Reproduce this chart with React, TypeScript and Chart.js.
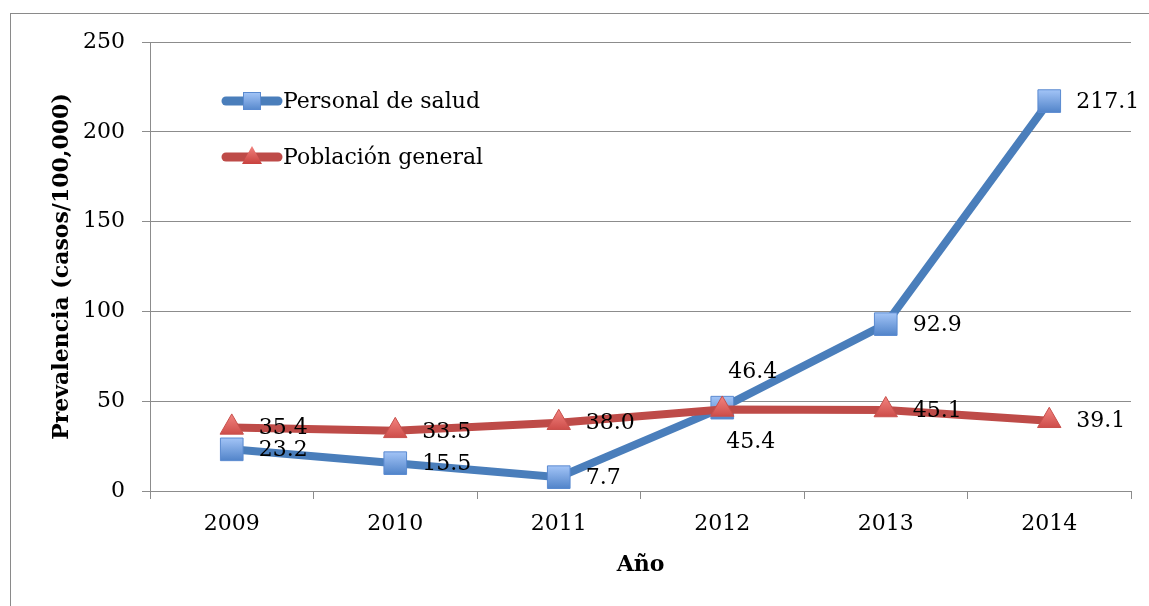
import { useEffect, useRef } from 'react';
import { Chart, registerables } from 'chart.js';

Chart.register(...registerables);

const years = ['2009', '2010', '2011', '2012', '2013', '2014'];
const personalSalud = [23.2, 15.5, 7.7, 46.4, 92.9, 217.1];
const poblacionGeneral = [35.4, 33.5, 38.0, 45.4, 45.1, 39.1];
const yTicks = [0, 50, 100, 150, 200, 250];
const seriesNames = ['Personal de salud', 'Población general'];
const yTitle = 'Prevalencia (casos/100,000)';
const xTitle = 'Año';

// label placement per point (style)
const saludPlacement = ['right', 'right', 'right', 'above', 'right', 'right'];
const poblacionPlacement = ['right', 'right', 'right', 'below', 'right', 'right'];

const FONT = '"DejaVu Serif", "Liberation Serif", serif';
const GRID = '#8c8c8c';
const BLUE = '#4a7ebb';
const RED = '#be4b48';

const markerGradient = (top: string, bottom: string) => (c: any) => {
  const chart = c.chart;
  const ys = chart.scales && chart.scales.y;
  if (!ys || !c.parsed || !chart.ctx) return bottom;
  const py = ys.getPixelForValue(c.parsed.y);
  if (!Number.isFinite(py)) return bottom;
  const g = chart.ctx.createLinearGradient(0, py - 12, 0, py + 12);
  g.addColorStop(0, top);
  g.addColorStop(1, bottom);
  return g;
};

const borderPlugin = {
  id: 'outerBorder',
  beforeDraw(chart: any) {
    const ctx = chart.ctx;
    ctx.save();
    ctx.fillStyle = '#ffffff';
    ctx.fillRect(0, 0, chart.width, chart.height);
    ctx.strokeStyle = '#8a8a8a';
    ctx.lineWidth = 1;
    ctx.strokeRect(10.5, 13.5, 3000, 3000);
    ctx.restore();
  },
};

const labelPlugin = {
  id: 'pointLabels',
  afterDatasetsDraw(chart: any) {
    const ctx = chart.ctx;
    ctx.save();
    ctx.font = `22px ${FONT}`;
    ctx.fillStyle = '#000';
    ctx.textBaseline = 'middle';
    ctx.textAlign = 'left';
    chart.data.datasets.forEach((ds: any, i: number) => {
      const meta = chart.getDatasetMeta(i);
      const placement: string[] = ds.labelPlacement;
      meta.data.forEach((pt: any, j: number) => {
        const v = ds.data[j] as number;
        const txt = v.toFixed(1);
        const p = placement[j];
        if (p === 'above') ctx.fillText(txt, pt.x + 6, pt.y - 35);
        else if (p === 'below') ctx.fillText(txt, pt.x + 4, pt.y + 33);
        else ctx.fillText(txt, pt.x + 27, pt.y + 1);
      });
    });
    ctx.restore();
  },
};

const legendPlugin = {
  id: 'insideLegend',
  afterDatasetsDraw(chart: any) {
    const ctx = chart.ctx;
    const area = chart.chartArea;
    const x0 = area.left + 72;
    const rows = [area.top + 59, area.top + 115];
    ctx.save();
    chart.data.datasets.forEach((ds: any, i: number) => {
      const y = rows[i];
      ctx.strokeStyle = ds.borderColor;
      ctx.lineWidth = 9;
      ctx.lineCap = 'round';
      ctx.beginPath();
      ctx.moveTo(x0 + 4, y);
      ctx.lineTo(x0 + 56, y);
      ctx.stroke();
      const cx = x0 + 30;
      if (ds.pointStyle === 'rect') {
        const g = ctx.createLinearGradient(0, y - 9, 0, y + 9);
        g.addColorStop(0, '#a5c6f8');
        g.addColorStop(1, '#5688cc');
        ctx.fillStyle = g;
        ctx.fillRect(cx - 9, y - 9, 18, 18);
        ctx.strokeStyle = '#5a8ad0';
        ctx.lineWidth = 1;
        ctx.strokeRect(cx - 8.5, y - 8.5, 17, 17);
      } else {
        const g = ctx.createLinearGradient(0, y - 10, 0, y + 7);
        g.addColorStop(0, '#f0807c');
        g.addColorStop(1, '#c8413e');
        ctx.fillStyle = g;
        ctx.beginPath();
        ctx.moveTo(cx, y - 11);
        ctx.lineTo(cx + 10, y + 7);
        ctx.lineTo(cx - 10, y + 7);
        ctx.closePath();
        ctx.fill();
      }
      ctx.fillStyle = '#000';
      ctx.font = `22px ${FONT}`;
      ctx.textBaseline = 'middle';
      ctx.textAlign = 'left';
      ctx.fillText(ds.label, x0 + 61, y + 1);
    });
    ctx.restore();
  },
};

export default function App() {
  const ref = useRef<HTMLCanvasElement>(null);

  useEffect(() => {
    if (!ref.current) return;
    const chart = new Chart(ref.current, {
      type: 'line',
      data: {
        labels: years,
        datasets: [
          {
            label: seriesNames[0],
            data: personalSalud,
            borderColor: BLUE,
            backgroundColor: BLUE,
            borderWidth: 8,
            tension: 0,
            pointStyle: 'rect',
            pointRadius: 16,
            pointBorderWidth: 1,
            pointBorderColor: '#5a8ad0',
            pointBackgroundColor: markerGradient('#a5c6f8', '#4f82c8'),
            order: 1,
            labelPlacement: saludPlacement,
          } as any,
          {
            label: seriesNames[1],
            data: poblacionGeneral,
            borderColor: RED,
            backgroundColor: RED,
            borderWidth: 8,
            tension: 0,
            pointStyle: 'triangle',
            pointRadius: 13.5,
            pointBorderWidth: 1,
            pointBorderColor: '#c8504c',
            pointBackgroundColor: markerGradient('#f0807c', '#c43f3c'),
            order: 0,
            labelPlacement: poblacionPlacement,
          } as any,
        ],
      },
      options: {
        responsive: false,
        animation: false,
        events: [],
        layout: { padding: { left: 0, top: 42, right: 18, bottom: 0 } },
        plugins: {
          legend: { display: false },
          tooltip: { enabled: false },
        },
        scales: {
          x: {
            type: 'category',
            offset: true,
            grid: {
              offset: true,
              drawOnChartArea: false,
              drawTicks: true,
              tickLength: 8,
              color: GRID,
              lineWidth: 1,
            },
            border: { display: true, color: GRID, width: 1 },
            ticks: {
              font: { family: FONT, size: 22 },
              color: '#000',
              padding: 12,
              maxRotation: 0,
            },
            title: {
              display: true,
              text: xTitle,
              font: { family: FONT, size: 22, weight: 'bold' },
              color: '#000',
              padding: { top: 4, bottom: 28 },
            },
            afterFit: (s: any) => {
              s.height = 115;
            },
          },
          y: {
            min: 0,
            max: 250,
            afterBuildTicks: (s: any) => {
              s.ticks = yTicks.map((v) => ({ value: v }));
            },
            grid: { color: GRID, lineWidth: 1, tickLength: 8 },
            border: { display: true, color: GRID, width: 1 },
            ticks: {
              font: { family: FONT, size: 22 },
              color: '#000',
              padding: 17,
            },
            title: {
              display: true,
              text: yTitle,
              font: { family: FONT, size: 22, weight: 'bold' },
              color: '#000',
              padding: { top: 49, bottom: 0 },
            },
            afterFit: (s: any) => {
              s.width = 150;
            },
          },
        },
      } as any,
      plugins: [borderPlugin, labelPlugin, legendPlugin],
    });
    return () => chart.destroy();
  }, []);

  return (
    <div style={{ position: 'fixed', left: 0, top: 0, width: 1149, height: 606 }}>
      <canvas ref={ref} width={1149} height={606} style={{ display: 'block' }} />
    </div>
  );
}
